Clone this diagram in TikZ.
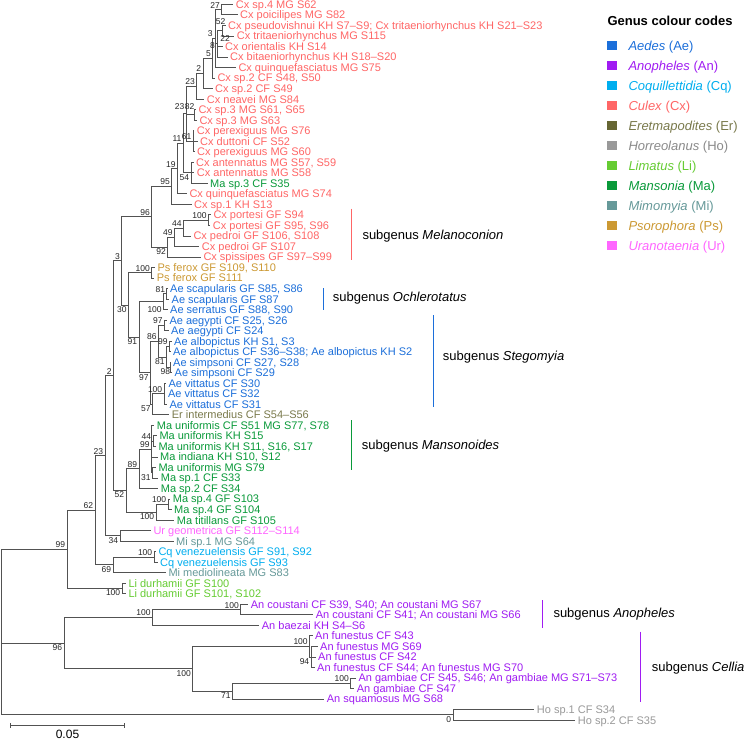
\documentclass[tikz,border=0pt]{standalone}
\usepackage{fontspec}
\setmainfont{Liberation Sans}
\usetikzlibrary{calc}
\definecolor{cAe}{HTML}{1C6FDA}
\definecolor{cAn}{HTML}{A01CF2}
\definecolor{cCq}{HTML}{00AEEF}
\definecolor{cCx}{HTML}{FF6666}
\definecolor{cEr}{HTML}{7A7A4C}
\definecolor{cErs}{HTML}{666633}
\definecolor{cHo}{HTML}{999999}
\definecolor{cLi}{HTML}{66CC33}
\definecolor{cMa}{HTML}{0A9A3A}
\definecolor{cMi}{HTML}{669999}
\definecolor{cPs}{HTML}{CC9933}
\definecolor{cUr}{HTML}{FF66FF}
\tikzset{
 br/.style={draw=black!68, line width=0.7pt},
 lab/.style={font=\fontsize{11}{11}\selectfont, anchor=west, inner sep=0pt, text height=8pt, text depth=0pt},
 bs/.style={font=\fontsize{8.5}{8.5}\selectfont, inner sep=0.4pt, text=black!85, text height=6.1pt, text depth=0pt},
 sg/.style={font=\fontsize{13}{13}\selectfont, anchor=west, inner sep=0pt, text height=9.3pt, text depth=0pt},
 sgbar/.style={line width=1.2pt},
 sw/.style={minimum size=9.5pt, inner sep=0pt, draw=none},
 lgt/.style={font=\fontsize{13}{13}\selectfont, anchor=west, inner sep=0pt, text height=9.3pt, text depth=0pt},
}
\newcommand{\Lf}[5]{\coordinate (#1) at (#3,{4.3+(#2-1)*10.525});\node[lab,text=#4] (#1t) at ([xshift=2.5pt]#1) {#5};}
\newcommand{\Nd}[4]{\coordinate (tmp-#1) at ($(#3)!0.5!(#4)$);\coordinate (#1) at (#2,0 |- tmp-#1);}
\newcommand{\E}[2]{\draw[br] (#1) |- (#2);}
\newcommand{\Ba}[2]{\node[bs,anchor=south east] (b-#1) at ([xshift=-1.2pt,yshift=0.8pt]#1) {#2};}
\newcommand{\Bb}[2]{\node[bs,anchor=north east] (b-#1) at ([xshift=-1.2pt,yshift=-0.8pt]#1) {#2};}
\newcommand{\Bx}[4]{\node[bs,anchor=east] (b-#1) at (#2,#3) {#4};}
\newcommand{\Lg}[6]{\node[sw,fill=#3] (sw#1) at (612,{45.7+20*#2}) {};\node[lgt,text=#4] (lg#1) at (628.3,{45.7+20*#2}) {\textit{#5} (#6)};}
\begin{document}
\begin{tikzpicture}[x=1pt,y=-1pt]
\fill[white] (0,0) rectangle (746,741);
\useasboundingbox (0,0) rectangle (746,741);
% leaves
\Lf{L1}{1}{233.2}{cCx}{Cx sp.4 MG S62}
\Lf{L2}{2}{237.5}{cCx}{Cx poicilipes MG S82}
\Lf{L3}{3}{225.5}{cCx}{Cx pseudovishnui KH S7–S9; Cx tritaeniorhynchus KH S21–S23}
\Lf{L4}{4}{234.2}{cCx}{Cx tritaeniorhynchus MG S115}
\Lf{L5}{5}{222.5}{cCx}{Cx orientalis KH S14}
\Lf{L6}{6}{227.5}{cCx}{Cx bitaeniorhynchus KH S18–S20}
\Lf{L7}{7}{235.8}{cCx}{Cx quinquefasciatus MG S75}
\Lf{L8}{8}{214.8}{cCx}{Cx sp.2 CF S48, S50}
\Lf{L9}{9}{212.5}{cCx}{Cx sp.2 CF S49}
\Lf{L10}{10}{204.2}{cCx}{Cx neavei MG S84}
\Lf{L11}{11}{195.8}{cCx}{Cx sp.3 MG S61, S65}
\Lf{L12}{12}{196.8}{cCx}{Cx sp.3 MG S63}
\Lf{L13}{13}{194.2}{cCx}{Cx perexiguus MG S76}
\Lf{L14}{14}{197.5}{cCx}{Cx duttoni CF S52}
\Lf{L15}{15}{194.5}{cCx}{Cx perexiguus MG S60}
\Lf{L16}{16}{193.5}{cCx}{Cx antennatus MG S57, S59}
\Lf{L17}{17}{194.2}{cCx}{Cx antennatus MG S58}
\Lf{L18}{18}{207.5}{cMa}{Ma sp.3 CF S35}
\Lf{L19}{19}{186.8}{cCx}{Cx quinquefasciatus MG S74}
\Lf{L20}{20}{191.5}{cCx}{Cx sp.1 KH S13}
\Lf{L21}{21}{210.8}{cCx}{Cx portesi GF S94}
\Lf{L22}{22}{210.2}{cCx}{Cx portesi GF S95, S96}
\Lf{L23}{23}{190.8}{cCx}{Cx pedroi GF S106, S108}
\Lf{L24}{24}{199.2}{cCx}{Cx pedroi GF S107}
\Lf{L25}{25}{200.8}{cCx}{Cx spissipes GF S97–S99}
\Lf{L26}{26}{154.8}{cPs}{Ps ferox GF S109, S110}
\Lf{L27}{27}{154.2}{cPs}{Ps ferox GF S111}
\Lf{L28}{28}{167.5}{cAe}{Ae scapularis GF S85, S86}
\Lf{L29}{29}{169}{cAe}{Ae scapularis GF S87}
\Lf{L30}{30}{167.5}{cAe}{Ae serratus GF S88, S90}
\Lf{L31}{31}{166.8}{cAe}{Ae aegypti CF S25, S26}
\Lf{L32}{32}{168.5}{cAe}{Ae aegypti CF S24}
\Lf{L33}{33}{171.5}{cAe}{Ae albopictus KH S1, S3}
\Lf{L34}{34}{170.5}{cAe}{Ae albopictus CF S36–S38; Ae albopictus KH S2}
\Lf{L35}{35}{170.5}{cAe}{Ae simpsoni CF S27, S28}
\Lf{L36}{36}{172}{cAe}{Ae simpsoni CF S29}
\Lf{L37}{37}{165.8}{cAe}{Ae vittatus CF S30}
\Lf{L38}{38}{165.3}{cAe}{Ae vittatus CF S32}
\Lf{L39}{39}{166.8}{cAe}{Ae vittatus CF S31}
\Lf{L40}{40}{169.2}{cEr}{Er intermedius CF S54–S56}
\Lf{L41}{41}{154.2}{cMa}{Ma uniformis CF S51 MG S77, S78}
\Lf{L42}{42}{156.8}{cMa}{Ma uniformis KH S15}
\Lf{L43}{43}{155.8}{cMa}{Ma uniformis KH S11, S16, S17}
\Lf{L44}{44}{157.5}{cMa}{Ma indiana KH S10, S12}
\Lf{L45}{45}{155.8}{cMa}{Ma uniformis MG S79}
\Lf{L46}{46}{158.2}{cMa}{Ma sp.1 CF S33}
\Lf{L47}{47}{158.2}{cMa}{Ma sp.2 CF S34}
\Lf{L48}{48}{170.2}{cMa}{Ma sp.4 GF S103}
\Lf{L49}{49}{171.5}{cMa}{Ma sp.4 GF S104}
\Lf{L50}{50}{174.2}{cMa}{Ma titillans GF S105}
\Lf{L51}{51}{150.8}{cUr}{Ur geometrica GF S112–S114}
\Lf{L52}{52}{173.5}{cMi}{Mi sp.1 MG S64}
\Lf{L53}{53}{155.8}{cCq}{Cq venezuelensis GF S91, S92}
\Lf{L54}{54}{157.5}{cCq}{Cq venezuelensis GF S93}
\Lf{L55}{55}{165.8}{cMi}{Mi mediolineata MG S83}
\Lf{L56}{56}{125.8}{cLi}{Li durhamii GF S100}
\Lf{L57}{57}{125.8}{cLi}{Li durhamii GF S101, S102}
\Lf{L58}{58}{248.2}{cAn}{An coustani CF S39, S40; An coustani MG S67}
\Lf{L59}{59}{313.2}{cAn}{An coustani CF S41; An coustani MG S66}
\Lf{L60}{60}{259.2}{cAn}{An baezai KH S4–S6}
\Lf{L61}{61}{312.5}{cAn}{An funestus CF S43}
\Lf{L62}{62}{317.5}{cAn}{An funestus MG S69}
\Lf{L63}{63}{315.5}{cAn}{An funestus CF S42}
\Lf{L64}{64}{314.5}{cAn}{An funestus CF S44; An funestus MG S70}
\Lf{L65}{65}{355.8}{cAn}{An gambiae CF S45, S46; An gambiae MG S71–S73}
\Lf{L66}{66}{354.2}{cAn}{An gambiae CF S47}
\Lf{L67}{67}{324.2}{cAn}{An squamosus MG S68}
\Lf{L68}{68}{534.2}{cHo}{Ho sp.1 CF S34}
\Lf{L69}{69}{575.2}{cHo}{Ho sp.2 CF S35}
% internal nodes (bottom-up)
\Nd{n27}{221.7}{L1}{L2}
\Nd{n52}{222}{L3}{L4}
\Nd{n8}{217}{n52}{L6}
\Nd{n3c}{215.5}{n27}{L7}
\Nd{n5}{212.7}{n3c}{L8}
\Nd{n2c}{203}{n5}{L9}
\Nd{n23a}{196.7}{n2c}{L10}
\Nd{n82}{194}{L11}{L12}
\Nd{n61}{193.2}{L13}{L15}
\Nd{n23b}{186}{n23a}{n61}
\Nd{n54}{191}{L16}{L18}
\Nd{n11}{183.2}{n23b}{n54}
\Nd{n19}{177.3}{n11}{L19}
\Nd{n95}{171.7}{n19}{L20}
\Nd{nPort}{208.3}{L21}{L22}
\Nd{n44}{183.3}{nPort}{L23}
\Nd{n49}{174.3}{n44}{L24}
\Nd{n92}{167.7}{n49}{L25}
\Nd{n96c}{151.7}{n95}{n92}
\Nd{nPs}{151.7}{L26}{L27}
\Nd{n81a}{166.8}{L28}{L29}
\Nd{nOch}{163.5}{n81a}{L30}
\Nd{nAeg}{164.5}{L31}{L32}
\Nd{n99a}{169.5}{L33}{L34}
\Nd{n98}{170}{L35}{L36}
\Nd{n81s}{166.5}{n99a}{n98}
\Nd{n86}{158.5}{nAeg}{n81s}
\Nd{nVitt}{164}{L37}{L39}
\Nd{n57}{152.5}{nVitt}{L40}
\Nd{n97s}{150.5}{n86}{n57}
\Nd{n91}{139}{nOch}{n97s}
\Nd{n30}{128.3}{nPs}{n91}
\Nd{n3}{121.7}{n96c}{n30}
\Nd{mA}{153}{L42}{L43}
\Nd{mB}{152.5}{L45}{L46}
\Nd{mC}{151.5}{L41}{mB}
\Nd{mD}{139}{mC}{L47}
\Nd{mE}{168}{L48}{L49}
\Nd{mF}{156}{mE}{L50}
\Nd{mG}{126}{mD}{mF}
\Nd{n2}{113.3}{n3}{mG}
\Nd{n34}{120}{L51}{L52}
\Nd{n23}{105}{n2}{n34}
\Nd{nCq}{154}{L53}{L54}
\Nd{n69}{113}{nCq}{L55}
\Nd{n62}{95}{n23}{n69}
\Nd{nLi}{122}{L56}{L57}
\Nd{n99}{67}{n62}{nLi}
\Nd{nCou}{240.7}{L58}{L59}
\Nd{nAn}{152.3}{nCou}{L60}
\Nd{n94}{311}{L62}{L64}
\Nd{nFun}{309.5}{L61}{n94}
\Nd{nGam}{350.7}{L65}{L66}
\Nd{n71}{232.3}{nGam}{L67}
\Nd{nCel}{192.7}{nFun}{n71}
\Nd{n96}{64}{nAn}{nCel}
\Nd{nHo}{453}{L68}{L69}
\Nd{root}{1}{n99}{nHo}
% branches
\E{n27}{L1}\E{n27}{L2}
\E{n52}{L3}\E{n52}{L4}
\E{n8}{n52}\E{n8}{L5}\E{n8}{L6}
\E{n3c}{n27}\E{n3c}{n8}\E{n3c}{L7}
\E{n5}{n3c}\E{n5}{L8}
\E{n2c}{n5}\E{n2c}{L9}
\E{n23a}{n2c}\E{n23a}{L10}
\E{n82}{L11}\E{n82}{L12}
\E{n61}{L13}\E{n61}{L14}\E{n61}{L15}
\E{n23b}{n23a}\E{n23b}{n82}\E{n23b}{n61}
\E{n54}{L16}\E{n54}{L17}\E{n54}{L18}
\E{n11}{n23b}\E{n11}{n54}
\E{n19}{n11}\E{n19}{L19}
\E{n95}{n19}\E{n95}{L20}
\E{nPort}{L21}\E{nPort}{L22}
\E{n44}{nPort}\E{n44}{L23}
\E{n49}{n44}\E{n49}{L24}
\E{n92}{n49}\E{n92}{L25}
\E{n96c}{n95}\E{n96c}{n92}
\E{nPs}{L26}\E{nPs}{L27}
\E{n81a}{L28}\E{n81a}{L29}
\E{nOch}{n81a}\E{nOch}{L30}
\E{nAeg}{L31}\E{nAeg}{L32}
\E{n99a}{L33}\E{n99a}{L34}
\E{n98}{L35}\E{n98}{L36}
\E{n81s}{n99a}\E{n81s}{n98}
\E{n86}{nAeg}\E{n86}{n81s}
\E{nVitt}{L37}\E{nVitt}{L38}\E{nVitt}{L39}
\E{n57}{nVitt}\E{n57}{L40}
\E{n97s}{n86}\E{n97s}{n57}
\E{n91}{nOch}\E{n91}{n97s}
\E{n30}{nPs}\E{n30}{n91}
\E{n3}{n96c}\E{n3}{n30}
\E{mA}{L42}\E{mA}{L43}
\E{mB}{L45}\E{mB}{L46}
\E{mC}{L41}\E{mC}{mA}\E{mC}{L44}\E{mC}{mB}
\E{mD}{mC}\E{mD}{L47}
\E{mE}{L48}\E{mE}{L49}
\E{mF}{mE}\E{mF}{L50}
\E{mG}{mD}\E{mG}{mF}
\E{n2}{n3}\E{n2}{mG}
\E{n34}{L51}\E{n34}{L52}
\E{n23}{n2}\E{n23}{n34}
\E{nCq}{L53}\E{nCq}{L54}
\E{n69}{nCq}\E{n69}{L55}
\E{n62}{n23}\E{n62}{n69}
\E{nLi}{L56}\E{nLi}{L57}
\E{n99}{n62}\E{n99}{nLi}
\E{nCou}{L58}\E{nCou}{L59}
\E{nAn}{nCou}\E{nAn}{L60}
\E{n94}{L62}\E{n94}{L63}\E{n94}{L64}
\E{nFun}{L61}\E{nFun}{n94}
\E{nGam}{L65}\E{nGam}{L66}
\E{n71}{nGam}\E{n71}{L67}
\E{nCel}{nFun}\E{nCel}{n71}
\E{n96}{nAn}\E{n96}{nCel}
\E{nHo}{L68}\E{nHo}{L69}
\E{root}{n99}\E{root}{n96}\E{root}{nHo}
% bootstrap values
\Ba{n27}{27}
\Bx{n52}{226}{21.5}{52}
\Bx{n3c}{213.3}{33.5}{3}
\Bx{n22}{230.5}{38.3}{22}
\Bx{n8}{215.5}{45}{8}
\Ba{n5}{5}\Ba{n2c}{2}\Ba{n23a}{23}
\Bx{n23b}{185}{106.5}{23}
\Bx{n82}{195}{106.5}{82}
\Ba{n11}{11}\Ba{n61}{61}\Bb{n54}{54}\Ba{n19}{19}\Ba{n95}{95}
\Ba{nPort}{100}\Ba{n44}{44}\Ba{n49}{49}\Bb{n92}{92}\Ba{n96c}{96}
\Ba{nPs}{100}\Ba{n81a}{81}
\Bx{nOch}{162.3}{309.3}{100}
\Ba{nAeg}{97}\Ba{n99a}{99}
\Bx{n98}{170.8}{371.7}{98}
\Bb{n81s}{81}\Ba{n86}{86}
\Ba{nVitt}{100}\Bb{n57}{57}\Bb{n97s}{97}\Bb{n91}{91}\Bb{n30}{30}\Ba{n3}{3}
\Ba{mA}{44}\Bb{mB}{31}\Ba{mC}{99}\Ba{mD}{89}\Ba{mE}{100}\Bb{mF}{100}\Bb{mG}{52}
\Ba{n2}{2}\Bb{n34}{34}\Ba{n23}{23}\Ba{nCq}{100}\Bb{n69}{69}\Ba{n62}{62}\Bb{nLi}{100}\Ba{n99}{99}
\Ba{nCou}{100}\Ba{nAn}{100}\Bb{n94}{94}\Ba{nFun}{100}\Ba{nGam}{100}\Bb{n71}{71}\Bb{nCel}{100}\Bb{n96}{96}\Bb{nHo}{0}
% subgenus bars
\draw[sgbar,cCx] (351.7,208.5) coordinate (sMa) -- (351.7,259.5) coordinate (sMb);
\node[sg] (tMel) at (362.3,235) {subgenus \textit{Melanoconion}};
\draw[sgbar,cAe] (323.3,288) coordinate (sOa) -- (323.3,310) coordinate (sOb);
\node[sg] (tOch) at (332.7,297.3) {subgenus \textit{Ochlerotatus}};
\draw[sgbar,cAe] (433.3,315) coordinate (sSa) -- (433.3,407.3) coordinate (sSb);
\node[sg] (tSte) at (442.7,355.7) {subgenus \textit{Stegomyia}};
\draw[sgbar,cMa] (351.7,420) coordinate (sMna) -- (351.7,470) coordinate (sMnb);
\node[sg] (tMan) at (361.7,445) {subgenus \textit{Mansonoides}};
\draw[sgbar,cAn] (542.3,600) coordinate (sAa) -- (542.3,628.3) coordinate (sAb);
\node[sg] (tAno) at (553.3,613.3) {subgenus \textit{Anopheles}};
\draw[sgbar,cAn] (640.7,631.7) coordinate (sCa) -- (640.7,702.3) coordinate (sCb);
\node[sg] (tCel) at (651.7,666.7) {subgenus \textit{Cellia}};
% scale bar
\coordinate (sbA) at (10.7,725.7);
\coordinate (sbB) at (124.3,725.7);
\draw[br] (sbA) -- (sbB);
\draw[br] ([yshift=2.5pt]sbA) -- ([yshift=-2.5pt]sbA);
\draw[br] ([yshift=2.5pt]sbB) -- ([yshift=-2.5pt]sbB);
\node[font=\fontsize{12}{12}\selectfont, inner sep=0pt, text height=8.6pt, text depth=0pt] (sbt) at (67.5,734.6) {0.05};
% legend
\node[font=\bfseries\fontsize{13}{13}\selectfont, anchor=west, inner sep=0pt, text height=9.3pt, text depth=0pt] (legt) at (607.3,20.7) {Genus colour codes};
\Lg{1}{0}{cAe}{cAe}{Aedes}{Ae}
\Lg{2}{1}{cAn}{cAn}{Anopheles}{An}
\Lg{3}{2}{cCq}{cCq}{Coquillettidia}{Cq}
\Lg{4}{3}{cCx}{cCx}{Culex}{Cx}
\Lg{5}{4}{cErs}{cEr}{Eretmapodites}{Er}
\Lg{6}{5}{cHo}{cHo!90!black}{Horreolanus}{Ho}
\Lg{7}{6}{cLi}{cLi}{Limatus}{Li}
\Lg{8}{7}{cMa}{cMa}{Mansonia}{Ma}
\Lg{9}{8}{cMi}{cMi}{Mimomyia}{Mi}
\Lg{10}{9}{cPs}{cPs}{Psorophora}{Ps}
\Lg{11}{10}{cUr}{cUr}{Uranotaenia}{Ur}
\end{tikzpicture}
\end{document}
